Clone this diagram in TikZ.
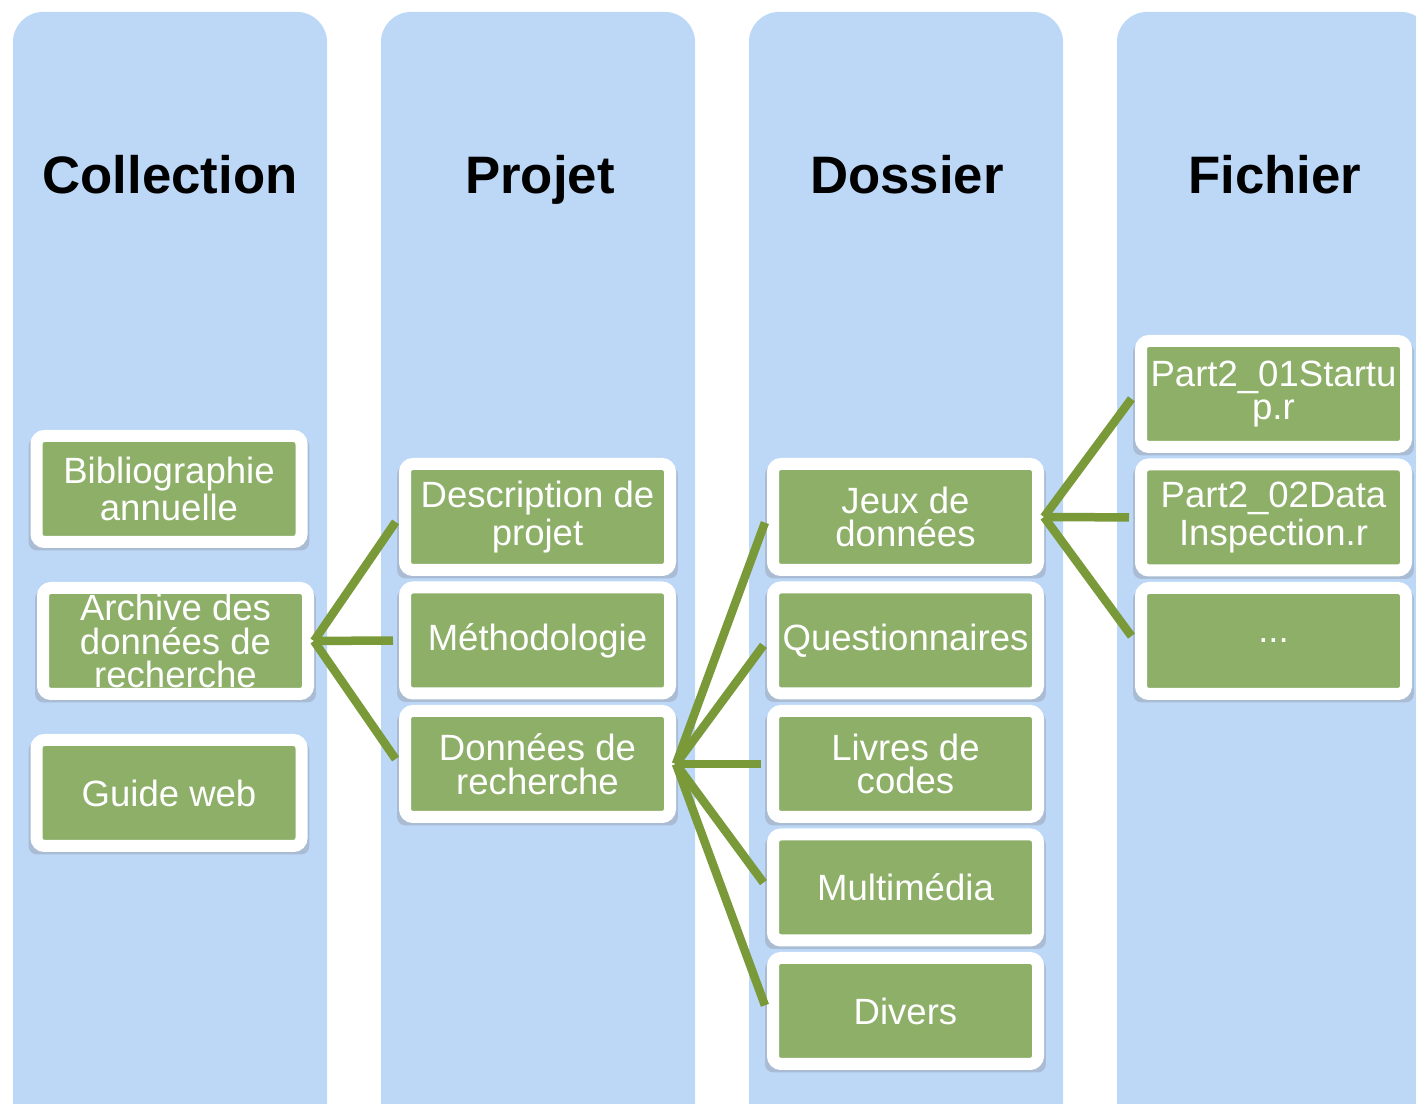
\documentclass[tikz,border=0pt]{standalone}
\usepackage{fontspec}
\setmainfont{Liberation Sans}
\usetikzlibrary{shadows}
\usetikzlibrary{calc,positioning}

\definecolor{laneblue}{RGB}{189,215,247}
\definecolor{leafgreen}{RGB}{141,175,104}
\definecolor{twiggreen}{RGB}{122,154,58}

\begin{document}
\begin{tikzpicture}
    \tikzstyle{lane} = [fill=laneblue, rounded corners=0.3cm]
    \tikzstyle{lanetitle} = [font=\fontsize{15}{18}\selectfont\bfseries, text=black, anchor=base]
    \tikzstyle{leaf} = [draw=white, line width=0.12cm, fill=leafgreen, rounded corners=0.08cm,
        text=white, align=center, inner sep=0pt, font=\fontsize{10.4}{9.6}\selectfont,
        drop shadow={opacity=0.3, shadow xshift=0cm, shadow yshift=-0.05cm, shadow scale=1.06}]
    \tikzstyle{twig} = [draw=twiggreen, line width=0.085cm, shorten >=0.06cm]

    \def\blockWidth{2.65cm}
    \def\blockHeight{1.06cm}

    \useasboundingbox (0,0) rectangle (14.16,11.04);
    \clip (0,0) rectangle (14.16,11.04);

    % columns
    \path [lane] (0.13,10.92) rectangle (3.27,-0.4);
    \path [lane] (3.81,10.92) rectangle (6.95,-0.4);
    \path [lane] (7.49,10.92) rectangle (10.63,-0.4);
    \path [lane] (11.17,10.92) rectangle (14.31,-0.4);

    \node [lanetitle] (hColl) at (1.70,9.10) {Collection};
    \node [lanetitle] (hProj) at (5.40,9.10) {Projet};
    \node [lanetitle] (hDoss) at (9.07,9.10) {Dossier};
    \node [lanetitle] (hFich) at (12.75,9.10) {Fichier};

    % collection
    \node [leaf, minimum width=\blockWidth, minimum height=\blockHeight] (bib) at (1.69,6.15) {Bibliographie\\annuelle};
    \node [leaf, minimum width=\blockWidth, minimum height=\blockHeight] (archive) at (1.755,4.63) {Archive des\\donn\'ees de\\recherche};
    \node [leaf, minimum width=\blockWidth, minimum height=\blockHeight] (guide) at (1.69,3.11) {Guide web};

    % projet
    \node [leaf, minimum width=\blockWidth, minimum height=\blockHeight] (desc) at (5.375,5.87) {Description de\\projet};
    \node [leaf, minimum width=\blockWidth, minimum height=\blockHeight, below of=desc, node distance=1.235cm] (method) {M\'ethodologie};
    \node [leaf, minimum width=\blockWidth, minimum height=\blockHeight, below of=method, node distance=1.235cm] (rdata) {Donn\'ees de\\recherche};

    % dossier
    \node [leaf, minimum width=\blockWidth, minimum height=\blockHeight] (jeux) at (9.055,5.87) {Jeux de\\donn\'ees};
    \node [leaf, minimum width=\blockWidth, minimum height=\blockHeight, below of=jeux, node distance=1.235cm] (quest) {Questionnaires};
    \node [leaf, minimum width=\blockWidth, minimum height=\blockHeight, below of=quest, node distance=1.235cm] (codes) {Livres de\\codes};
    \node [leaf, minimum width=\blockWidth, minimum height=\blockHeight, below of=codes, node distance=1.235cm] (multi) {Multim\'edia};
    \node [leaf, minimum width=\blockWidth, minimum height=\blockHeight, below of=multi, node distance=1.235cm] (divers) {Divers};

    % fichier
    \node [leaf, minimum width=\blockWidth, minimum height=\blockHeight] (part1) at (12.735,7.10) {Part2\_01Startu\\p.r};
    \node [leaf, minimum width=\blockWidth, minimum height=\blockHeight, below of=part1, node distance=1.235cm] (part2) {Part2\_02Data\\Inspection.r};
    \node [leaf, minimum width=\blockWidth, minimum height=\blockHeight, below of=part2, node distance=1.235cm] (more) {...};

    \path [twig] (archive.east) -- (desc.west);
    \path [twig] (archive.east) -- (method.west);
    \path [twig] (archive.east) -- (rdata.west);

    \path [twig] (rdata.east) -- (jeux.west);
    \path [twig] (rdata.east) -- (quest.west);
    \path [twig] (rdata.east) -- (codes.west);
    \path [twig] (rdata.east) -- (multi.west);
    \path [twig] (rdata.east) -- (divers.west);

    \path [twig] (jeux.east) -- (part1.west);
    \path [twig] (jeux.east) -- (part2.west);
    \path [twig] (jeux.east) -- (more.west);
\end{tikzpicture}
\end{document}
